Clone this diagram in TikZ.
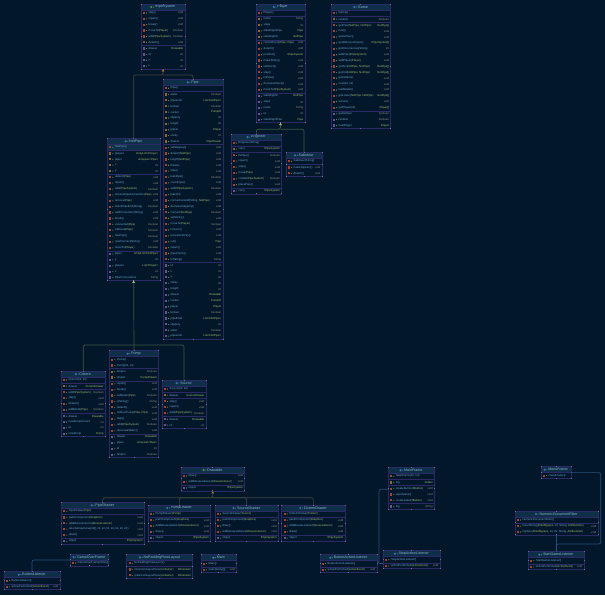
\documentclass[tikz,border=0pt]{standalone}
\usepackage{fontspec}
\setmainfont{Liberation Sans}
\usetikzlibrary{arrows.meta}
\definecolor{PageBg}{HTML}{03172B}
\definecolor{TitleBg}{HTML}{0E2F47}
\definecolor{ClassLine}{HTML}{2B2A66}
\definecolor{NameText}{HTML}{6FA8CC}
\definecolor{TitleText}{HTML}{8DB8D2}
\definecolor{PlainType}{HTML}{8E8E7E}
\definecolor{ClassType}{HTML}{A4C26C}
\definecolor{IconBlue}{HTML}{3C6FC0}
\definecolor{IconGreen}{HTML}{4F8A4A}
\definecolor{iconc}{HTML}{A8422E}
\definecolor{iconm}{HTML}{A8422E}
\definecolor{iconf}{HTML}{9C622E}
\definecolor{icona}{HTML}{71508F}
\definecolor{VisDot}{HTML}{4FA35A}
\definecolor{Handle}{HTML}{6E7884}
\definecolor{LinkGreen}{HTML}{3A5846}
\definecolor{LinkGrey}{HTML}{41453C}
\definecolor{LinkBlue}{HTML}{264F78}
\newcommand{\cl}[1]{\textcolor{ClassType}{#1}}
\tikzset{
  classbox/.style={draw=ClassLine,line width=0.65pt,inner sep=0pt,outer sep=0pt},
  sepline/.style={draw=ClassLine,line width=0.6pt},
  titletext/.style={font=\fontsize{3.6}{4.4}\selectfont,text=TitleText,inner sep=0pt},
  rowname/.style={font=\fontsize{2.8}{3.4}\selectfont,text=NameText,inner sep=0pt,anchor=west},
  rowtype/.style={font=\fontsize{2.8}{3.4}\selectfont,text=PlainType,inner sep=0pt,anchor=east},
  link/.style={line width=0.7pt,rounded corners=2pt},
  greenlink/.style={link,draw=LinkGreen,<-,>={Triangle[length=2.4pt,width=2.6pt,color=ClassType]}},
  greylink/.style={link,draw=LinkGrey,<-,>={Triangle[length=2.4pt,width=2.6pt,color=iconf]}},
  bluelink/.style={link,draw=LinkBlue},
}
\newcommand{\umlclass}[7]{%
	\fill[TitleBg] (#2,#3) rectangle ++(#4,6);
	\node[titletext] (#1-title) at (#2+#4/2+2,#3+3) {#6};
	\fill[#5] ([xshift=-3.4pt]#1-title.west) circle (1.2pt);
	\fill[VisDot] ([xshift=-1.2pt]#1-title.west) circle (0.5pt);
	\xdef\rowy{6}
	\draw[sepline] (#2,#3+6) -- ++(#4,0);
	\foreach \kind/\lbl/\typ [count=\i] in {#7} {
		\if s\kind
			\pgfmathsetmacro\nexty{\rowy+0.3}\xdef\rowy{\nexty}
			\draw[sepline] (#2,#3+\rowy) -- ++(#4,0);
		\else
			\fill[icon\kind] (#2+1.9,#3+\rowy+1.85) rectangle ++(2.2,2.2);
			\fill[VisDot] (#2+5.5,#3+\rowy+2.95) circle (0.55pt);
			\node[rowname] (#1-n\i) at (#2+7.5,#3+\rowy+2.95) {\lbl};
			\node[rowtype] (#1-t\i) at (#2+#4-1.5,#3+\rowy+2.95) {\typ};
			\pgfmathsetmacro\nexty{\rowy+5.88}\xdef\rowy{\nexty}
		\fi
	}
	\node[classbox,minimum width=#4pt,minimum height=\rowy pt,anchor=north west] (#1) at (#2,#3) {};
	\foreach \a in {north west,north,north east,east,south east,south,south west,west} {
		\fill[Handle] ([shift={(-0.5pt,-0.5pt)}]#1.\a) rectangle ++(1,-1);
	}
}
\begin{document}
\begin{tikzpicture}[x=1pt,y=-1pt]
	\fill[PageBg] (0,0) rectangle (605,595);
	\useasboundingbox (0,0) rectangle (605,595);
	% Игровое поле
	\umlclass{pipesystem}{141}{4}{44}{IconGreen}{IPipeSystem}{m/step()/void,m/repair()/void,m/break()/void,m/moveTo(\cl{Player})/boolean,m/add(\cl{IPipeSystem})/boolean,m/detach()/void,s//,a/drawer/\cl{Drawable},a/id/int,a/y/int,a/x/int}
	\umlclass{player}{256}{4}{49}{IconBlue}{Player}{c/Player()/,s//,f/name/String,f/steps/int,f/standingInPipe/\cl{Pipe},f/standingOn/\cl{NotPipe},s//,m/{controlPump(\cl{Pipe, Pipe})}/void,m/detach()/void,m/position()/\cl{IPipeSystem},m/makeSticky()/void,m/setStuck()/void,m/step()/void,m/hitPipe()/void,m/decreaseStuck()/void,m/moveTo(\cl{IPipeSystem})/void,s//,a/standingOn/\cl{NotPipe},a/steps/int,a/name/String,a/id/int,a/standingInPipe/\cl{Pipe}}
	\umlclass{game}{331}{4}{59.7}{IconBlue}{Game}{c/Game()/,s//,f/random/boolean,s//,m/{getPipe(\cl{NotPipe, NotPipe})}/\cl{NotPipe[]},m/next()/void,m/gameOver()/void,m/getAllSourcePipes()/\cl{IPipeSystem[]},m/getOccurrences(String)/int,m/addPipe(\cl{IPipeSystem})/void,m/addPlayer(\cl{Player})/void,m/{getSrc(\cl{NotPipe, NotPipe})}/\cl{NotPipe[]},m/{getDst(\cl{NotPipe, NotPipe})}/\cl{NotPipe[]},m/gameWon()/void,m/{next(int, int)}/void,m/loadWater()/void,m/{getLower(\cl{NotPipe, NotPipe})}/\cl{NotPipe[]},m/action()/void,m/getPlayer(int)/\cl{Player[]},s//,a/gameOver/boolean,a/random/boolean,a/nextPlayer/\cl{Player}}
	\umlclass{pipe}{163}{79.3}{60}{IconBlue}{Pipe}{c/Pipe()/,s//,f/water/boolean,f/pipeends/\cl{List<NotPipe>},f/broken/boolean,f/sucker/\cl{PumpID},f/slippery/int,f/length/int,f/player/\cl{Player},f/sticky/int,f/drawer/\cl{PipeDrawer},s//,m/setSlippery()/void,m/detach(\cl{NotPipe})/void,m/length(\cl{NotPipe})/void,m/break()/void,m/step()/void,m/leakPipe()/boolean,m/countPipe()/void,m/add(\cl{IPipeSystem})/boolean,m/leak(int)/void,m/{connectionAdd(String, \cl{NotPipe})}/void,m/decreaseSlippery()/void,m/connect(\cl{NotPipe})/boolean,m/setSticky()/void,m/moveTo(\cl{Player})/boolean,m/remove()/void,m/increaseSticky()/void,m/cut()/\cl{Pipe},m/repair()/void,m/pipeCheck()/void,m/toString()/String,s//,a/id/int,a/x/int,a/y/int,a/sticky/int,a/length/int,a/drawer/\cl{Drawable},a/sucker/\cl{PumpID},a/player/\cl{Player},a/broken/boolean,a/pipeEnds/\cl{List<NotPipe>},a/slippery/int,a/water/boolean,a/pipeends/\cl{List<NotPipe>}}
	\fill[TitleBg] (107.3,144.3) rectangle ++(52.7,6);
	\umlclass{notpipe}{107.3}{138.3}{52.7}{IconBlue}{NotPipe}{c/NotPipe()/,s//,f/players/\cl{ArrayList<Player>},f/pipes/\cl{ArrayList<Pipe>},f/x/int,f/y/int,s//,m/detach(\cl{Pipe})/void,m/repair()/void,m/add(\cl{IPipeSystem})/boolean,m/removePipeConnection(\cl{Pipe})/void,m/remove(\cl{Pipe})/void,m/checkPipeEnd(String)/boolean,m/addConnection(String)/void,m/break()/void,m/connected(\cl{Pipe})/boolean,m/isMoved(\cl{Pipe})/boolean,m/hasPipe()/boolean,m/newConnect(String)/void,m/moveTo(\cl{Player})/boolean,s//,a/pipes/\cl{ArrayList<NotPipe>},a/y/int,a/players/\cl{List<Player>},a/x/int,a/PipeConnections/String}
	\umlclass{engineer}{231}{134}{50.7}{IconBlue}{Engineer}{c/Engineer(String)/,s//,f/carry/\cl{IPipeSystem},s//,m/fixPipe()/boolean,m/repair()/void,m/step()/void,m/move(\cl{Pipe})/void,m/create(\cl{IPipeSystem})/boolean,m/placePipe()/void,s//,a/carry/\cl{IPipeSystem}}
	\umlclass{saboteur}{286}{152.3}{36}{IconBlue}{Saboteur}{c/Saboteur(String)/,s//,m/makeSlippery()/void,m/detach()/void}
	% Элементы сети
	\umlclass{cistern}{61}{371}{44.3}{IconBlue}{Cistern}{c/{Cistern(int, int)}/,s//,f/drawer/\cl{CisternDrawer},s//,m/add(\cl{IPipeSystem})/boolean,m/step()/void,m/detach()/void,m/addMode(\cl{Pipe})/boolean,s//,a/drawer/\cl{Drawable},a/newPumpsCount/int,a/id/int,a/newPump/\cl{Pump}}
	\umlclass{pump}{109.3}{350.7}{49.4}{IconBlue}{Pump}{c/Pump()/,c/{Pump(int, int)}/,s//,f/broken/boolean,f/drawer/\cl{PumpDrawer},s//,m/repair()/void,m/break()/void,m/setWater(\cl{Pipe})/boolean,m/toString()/String,m/detach()/void,m/{redirectPump(\cl{Pipe, Pipe})}/void,m/step()/void,m/add(\cl{IPipeSystem})/boolean,m/decreaseWater()/void,s//,a/drawer/\cl{Drawable},a/pipes/\cl{ArrayList<Pipe>},a/id/int,a/broken/boolean}
	\umlclass{source}{162}{380}{44}{IconBlue}{Source}{c/{Source(int, int)}/,s//,f/drawer/\cl{SourceDrawer},s//,m/step()/void,m/repair()/void,m/add(\cl{IPipeSystem})/boolean,s//,a/drawer/\cl{Drawable},a/id/int}
	% Отрисовка
	\umlclass{drawable}{181}{467}{63.7}{IconGreen}{Drawable}{m/draw()/void,m/addMouseListener(\cl{MouseListener})/void,s//,a/object/\cl{IPipeSystem}}
	\umlclass{pipedrawer}{61.3}{502.3}{83}{IconBlue}{PipeDrawer}{c/PipeDrawer(\cl{Pipe})/,s//,m/paintComponent(\cl{Graphics})/void,m/addMouseListener(\cl{MouseListener})/void,m/{returnArrayCurve(int[], int, int, int, int, int, int, int)}/void,m/draw()/void,s//,a/object/\cl{IPipeSystem}}
	\umlclass{pumpdrawer}{148}{505}{62.7}{IconBlue}{PumpDrawer}{c/PumpDrawer(\cl{Pump})/,s//,m/paintComponent(\cl{Graphics})/void,m/addMouseListener(\cl{MouseListener})/void,m/draw()/void,s//,a/object/\cl{IPipeSystem}}
	\umlclass{sourcedrawer}{215}{505}{63.3}{IconBlue}{SourceDrawer}{c/SourceDrawer(\cl{Source})/,s//,m/paintComponent(\cl{Graphics})/void,m/draw()/void,m/addMouseListener(\cl{MouseListener})/void,s//,a/object/\cl{IPipeSystem}}
	\umlclass{cisterndrawer}{281.7}{505}{63.3}{IconBlue}{CisternDrawer}{c/CisternDrawer(\cl{Cistern})/,s//,m/paintComponent(\cl{Graphics})/void,m/addMouseListener(\cl{MouseListener})/void,m/draw()/void,s//,a/object/\cl{IPipeSystem}}
	% Окна и слушатели
	\umlclass{gameoverframe}{70}{554}{38.3}{IconBlue}{GameOverFrame}{c/GameOverFrame(String)/}
	\umlclass{nopadding}{126.7}{554.3}{66}{IconBlue}{NoPaddingFlowLayout}{c/NoPaddingFlowLayout()/,s//,m/minimumLayoutSize(\cl{Container})/\cl{Dimension},m/preferredLayoutSize(\cl{Container})/\cl{Dimension}}
	\umlclass{buttonlistener}{4}{571.7}{56}{IconBlue}{ButtonListener}{c/ButtonListener()/,s//,m/actionPerformed(\cl{ActionEvent})/void}
	\umlclass{mainclass}{201}{554.7}{35.7}{IconBlue}{Main}{c/Main()/,s//,m/main(String[])/void}
	\umlclass{buttonaction}{320}{554.7}{57}{IconBlue}{ButtonActionListener}{c/ButtonActionListener()/,s//,m/actionPerformed(\cl{ActionEvent})/void}
	\umlclass{stopaction}{383.3}{550.7}{56.7}{IconBlue}{StopActionListener}{c/StopActionListener()/,s//,m/actionPerformed(\cl{ActionEvent})/void}
	\umlclass{mainframe}{388.3}{467.3}{46}{IconBlue}{MainFrame}{c/{MainFrame(int, int)}/,s//,f/log/\cl{JLabel},s//,m/createButton(\cl{JButton})/void,m/saveGame()/void,m/createLabel(\cl{JButton})/void,s//,a/log/String}
	\umlclass{menuframe}{541}{466.7}{30}{IconBlue}{MenuFrame}{c/menuFrame()/}
	\umlclass{numericfilter}{515}{511}{83}{IconBlue}{NumericDocumentFilter}{c/NumericDocumentFilter()/,s//,m/{insertString(\cl{FilterBypass}, int, String, \cl{AttributeSet})}/void,m/{replace(\cl{FilterBypass}, int, int, String, \cl{AttributeSet})}/void}
	\umlclass{startgame}{528.3}{551.7}{55.7}{IconBlue}{StartGameListener}{c/StartGameListener()/,s//,m/actionPerformed(\cl{ActionEvent})/void}
	% Связи
	\coordinate (pipesystembus) at (163,75);
	\draw[greylink] (pipesystem.south) -- (pipesystembus) -| (notpipe.north);
	\draw[link,draw=LinkGrey] (pipesystembus) -| (pipe.north);
	\coordinate (playerbus) at (280.5,129.3);
	\draw[greenlink] (player.south) -- (playerbus) -| (engineer.north);
	\draw[link,draw=LinkGreen] (playerbus) -| (saboteur.north);
	\coordinate (notpipebus) at (133.7,345);
	\draw[greenlink] (notpipe.south) -- (pump.north);
	\draw[link,draw=LinkGreen] (notpipebus) -| (cistern.north);
	\draw[link,draw=LinkGreen] (notpipebus) -| (source.north);
	\coordinate (drawablebus) at (212.8,497.7);
	\draw[greylink] (drawable.south) -- (drawablebus) -| (pipedrawer.north);
	\foreach \target in {pumpdrawer,sourcedrawer,cisterndrawer} {
		\draw[link,draw=LinkGrey] (drawablebus) -| (\target.north);
	}
	\draw[bluelink] (gameoverframe.west) -| (buttonlistener.north);
	\coordinate (mainframeport) at (388.3,489.3);
	\coordinate (mainframebus) at (379,563.3);
	\draw[bluelink] (mainframeport) -| (mainframebus) -- (buttonaction.east |- mainframebus);
	\draw[bluelink] (mainframebus) -- (stopaction.west |- mainframebus);
	\coordinate (menubus) at (600.7,544);
	\draw[bluelink] (menuframe.east) -| (menubus) -| (startgame.north);
	\draw[bluelink] (numericfilter.south -| startgame.north) -- (startgame.north);
\end{tikzpicture}
\end{document}
